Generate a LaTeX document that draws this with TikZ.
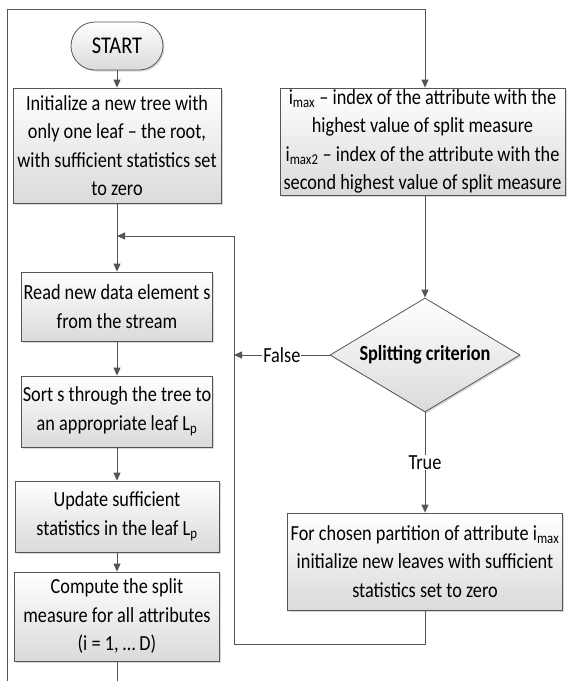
\documentclass[tikz,border=0pt]{standalone}
\usepackage{fontspec}
\setmainfont{Carlito}[FakeStretch=0.85]
\usetikzlibrary{arrows.meta,shapes.geometric,shadows}
\definecolor{linegray}{RGB}{85,85,85}
\definecolor{boxbottom}{RGB}{218,218,218}
\begin{document}
\begin{tikzpicture}[x=1pt,y=-1pt,
    every node/.style={font=\fontsize{21.5}{28.5}\selectfont, text=black},
    box/.style={draw=linegray, line width=0.8pt, top color=white, bottom color=boxbottom,
      drop shadow={opacity=0.3, shadow xshift=1.5pt, shadow yshift=-1.5pt},
      align=center, inner sep=1pt},
    term/.style={box, rounded corners=24pt, minimum width=92pt, minimum height=48pt,
      font=\fontsize{24}{28}\selectfont},
    decision/.style={box, diamond, aspect=1.67, inner sep=0pt, minimum width=190pt, minimum height=114pt},
    flow/.style={draw=linegray, line width=0.9pt, -{Triangle[length=8pt,width=7pt]}},
    lbl/.style={fill=white, inner sep=1pt}]
  \useasboundingbox (0,0) rectangle (566,681);
  % left column
  \node[term] (start) at (117,46) {START};
  \node[box, minimum width=208pt, minimum height=115pt] (init) at (117,145.5)
    {Initialize a new tree with\\only one leaf – the root,\\with sufficient statistics set\\to zero};
  \node[box, minimum width=191pt, minimum height=69pt] (read) at (117,306.5)
    {Read new data element s\\from the stream};
  \node[box, minimum width=191pt, minimum height=71pt] (sort) at (117,411.5)
    {Sort s through the tree to\\an appropriate leaf L\textsubscript{p}};
  \node[box, minimum width=204pt, minimum height=71pt] (update) at (117,516.5)
    {Update sufficient\\statistics in the leaf L\textsubscript{p}};
  \node[box, minimum width=205pt, minimum height=89pt] (compute) at (117,616.5)
    {Compute the split\\measure for all attributes\\(i = 1, … D)};
  % right column
  \node[box, minimum width=285pt, minimum height=107pt] (imax) at (422.5,141.5)
    {i\textsubscript{max} – index of the attribute with the\\highest value of split measure\\i\textsubscript{max2} – index of the attribute with the\\second highest value of split measure};
  \node[decision] (crit) at (425,355) {\textbf{Splitting criterion}};
  \node[box, minimum width=275pt, minimum height=97pt] (part) at (425,561.5)
    {For chosen partition of attribute i\textsubscript{max}\\initialize new leaves with sufficient\\statistics set to zero};
  % loop corners
  \coordinate (loopbot) at (117,700);
  \coordinate (loopleft) at (7,700);
  \coordinate (looptop) at (7,9);
  \coordinate (topright) at (425,9);
  \coordinate (merge) at (117,236);
  \coordinate (retup) at (234,236);
  \coordinate (retleft) at (234,644);
  \coordinate (retbot) at (425,644);
  \begin{scope}
    \draw[flow] (start) -- (init);
    \draw[flow] (init) -- (read);
    \draw[flow] (read) -- (sort);
    \draw[flow] (sort) -- (update);
    \draw[flow] (update) -- (compute);
    \draw[flow] (compute) -- (loopbot) -- (loopleft) -- (looptop) -- (topright) -- (imax.north -| topright);
    \draw[flow] (imax.south -| crit.north) -- (crit);
    \draw[flow] (crit) -- node[lbl] {False} (crit.west -| retup);
    \draw[flow] (crit) -- node[lbl] {True} (part);
    \draw[flow] (part) -- (retbot) -- (retleft) -- (retup) -- (merge);
  \end{scope}
\end{tikzpicture}
\end{document}
